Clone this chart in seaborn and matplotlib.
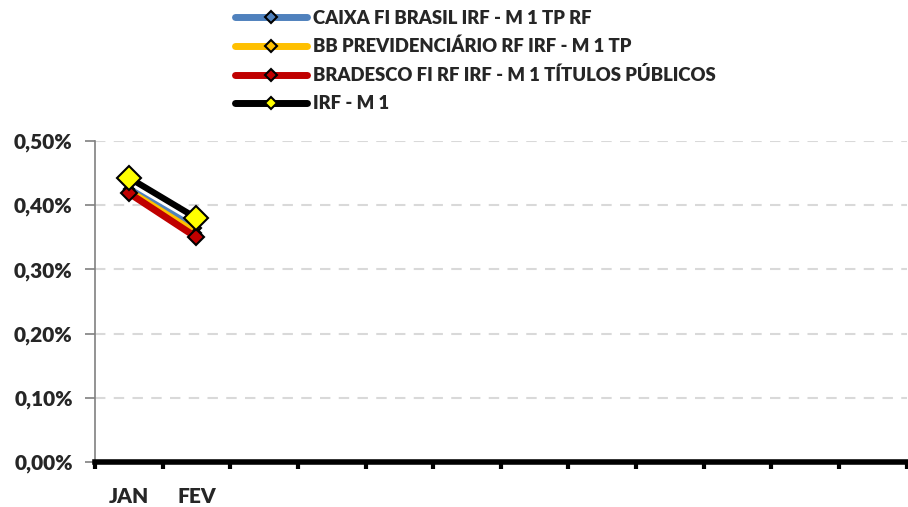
import pandas as pd
import matplotlib.pyplot as plt
import seaborn as sns
from matplotlib.lines import Line2D

# Data (values in %)
months = ["JAN", "FEV", "", "", "", "", "", "", "", "", "", ""]
caixa = [0.426, 0.364]
bb = [0.423, 0.357]
bradesco = [0.419, 0.350]
irfm1 = [0.443, 0.380]

names = [
    "CAIXA FI BRASIL IRF - M 1 TP RF",
    "BB PREVIDENCIÁRIO RF IRF - M 1 TP",
    "BRADESCO FI RF IRF - M 1 TÍTULOS PÚBLICOS",
    "IRF - M 1",
]
colors = ["#4F81BD", "#FFC000", "#C00000", "#000000"]
faces = ["#4F81BD", "#FFC000", "#C00000", "#FFFF00"]

df = pd.DataFrame({
    "x": [0, 1] * 4,
    "valor": caixa + bb + bradesco + irfm1,
    "serie": [n for n in names for _ in range(2)],
})

sns.set_style("white")
plt.rcParams["font.family"] = ["Lato", "DejaVu Sans"]
weight = "heavy"

fig = plt.figure(figsize=(9.08, 5.07), dpi=100)
ax = fig.add_axes([0.1046, 0.0888, 0.894, 0.633])

styles = [
    dict(lw=4.5, ms=5),
    dict(lw=4.5, ms=5),
    dict(lw=5, ms=8),
    dict(lw=4.5, ms=12),
]
for name, c, f, st in zip(names, colors, faces, styles):
    sub = df[df["serie"] == name]
    sns.lineplot(data=sub, x="x", y="valor", ax=ax, color=c, lw=st["lw"],
                 marker="D", markersize=st["ms"], markerfacecolor=f,
                 markeredgecolor="black", markeredgewidth=1.5,
                 solid_capstyle="round", legend=False)

# Axes
ax.set_xlim(-0.5, 11.5)
ax.set_ylim(0, 0.5)
yt = [0, 0.1, 0.2, 0.3, 0.4, 0.5]
ax.set_yticks(yt)
ax.set_yticklabels([f"{v:.2f}%".replace(".", ",") for v in yt],
                   fontsize=15, fontweight=weight)
ax.set_xticks(range(12))
ax.set_xticklabels(months, fontsize=15, fontweight=weight)
ax.set_xticks([i - 0.5 for i in range(13)], minor=True)
ax.tick_params(axis="x", which="major", bottom=True, length=0, pad=18)
ax.tick_params(axis="x", which="minor", bottom=True, length=5, width=3,
               color="black")
ax.tick_params(axis="y", left=True, length=7, width=1.2, color="#808080",
               pad=9)
ax.set_xlabel("")
ax.set_ylabel("")

ax.yaxis.grid(True, color="#D9D9D9", linestyle=(0, (5, 4)), lw=1.5)
ax.set_axisbelow(True)
for s in ["top", "right"]:
    ax.spines[s].set_visible(False)
ax.spines["left"].set_color("#808080")
ax.spines["left"].set_linewidth(1.2)
ax.spines["bottom"].set_color("black")
ax.spines["bottom"].set_linewidth(4)

# Legend
handles = [
    Line2D([], [], color=c, lw=5, marker="D", markersize=6,
           markerfacecolor=f, markeredgecolor="black", markeredgewidth=1.5,
           solid_capstyle="round")
    for c, f in zip(colors, faces)
]
fig.legend(handles, names, loc="upper left", bbox_to_anchor=(0.241, 1.014),
           frameon=False, handlelength=3.9, handletextpad=0.3,
           labelspacing=0.6, prop=dict(family="Lato", weight=weight, size=13.3))

plt.savefig("out.png", dpi=100)
plt.close()
